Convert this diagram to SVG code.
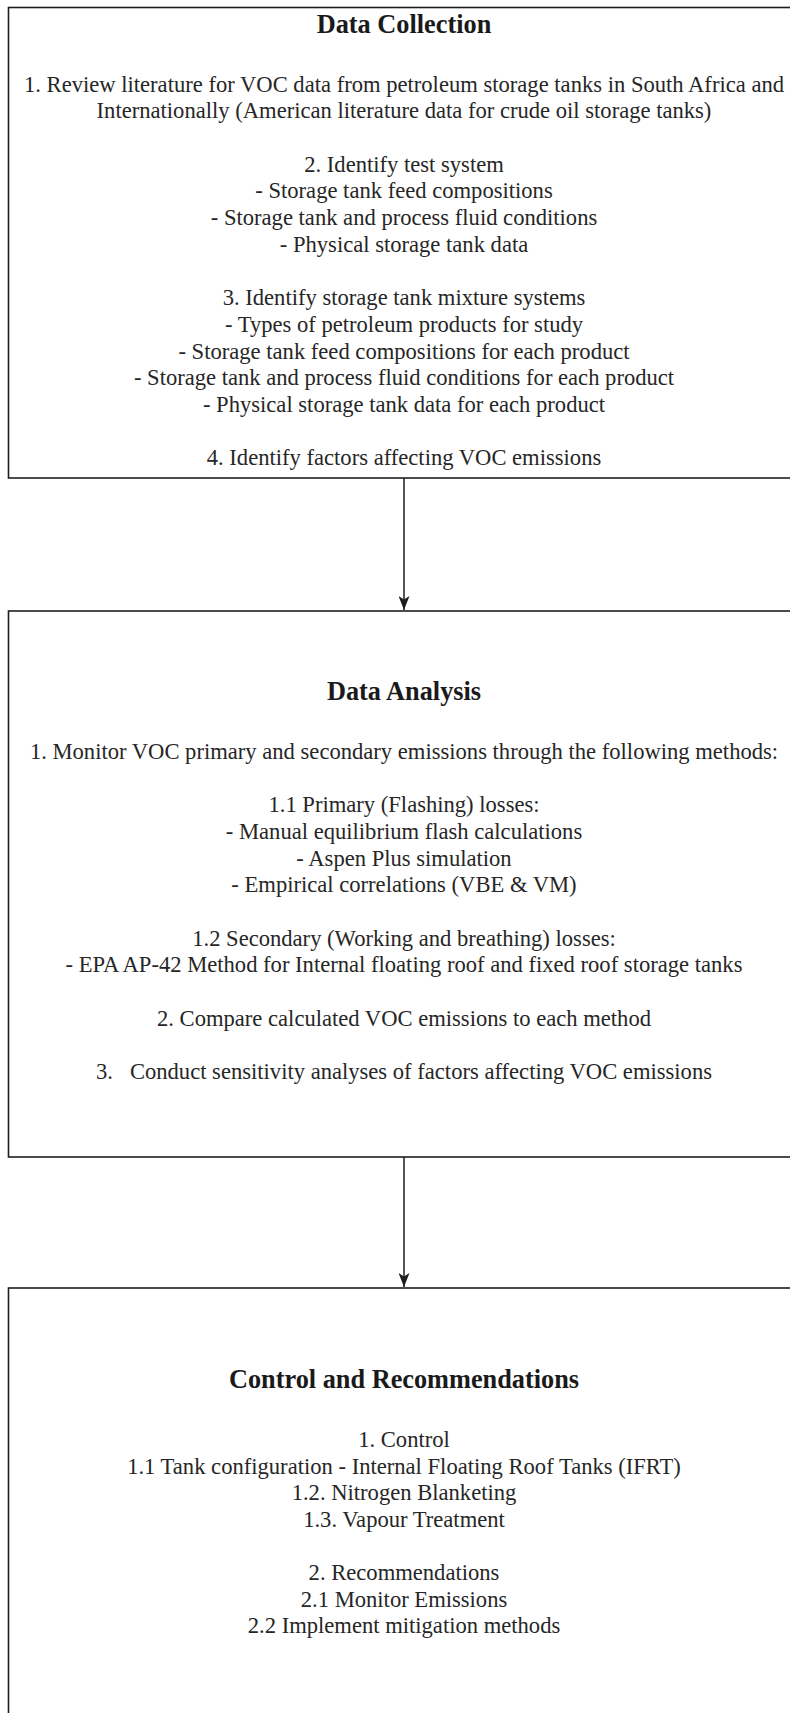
<svg xmlns="http://www.w3.org/2000/svg" width="790" height="1713" viewBox="0 0 790 1713">
  <style>
    .box { fill: #ffffff; stroke: #1e1e1e; stroke-width: 1.6; }
    .title { font-family: "Liberation Serif", "Times New Roman", serif; font-size: 26.3px; font-weight: bold; fill: #1a1a1a; text-anchor: middle; }
    .body { font-family: "Liberation Serif", "Times New Roman", serif; font-size: 22.6px; fill: #262626; text-anchor: middle; }
    .edge { stroke: #1e1e1e; stroke-width: 1.5; fill: none; }
  </style>
  <defs>
    <marker id="arrow" viewBox="0 0 14 11" refX="14" refY="5.5" markerWidth="14" markerHeight="11" orient="auto" markerUnits="userSpaceOnUse">
      <path d="M0,0 L14,5.5 L0,11 L3.5,5.5 z" fill="#1e1e1e"/>
    </marker>
  </defs>
  <rect x="0" y="0" width="790" height="1713" fill="#ffffff"/>

  <g id="data-collection">
    <rect class="box" x="8.5" y="7.5" width="800" height="470.5"/>
    <text class="title" x="404" y="33">Data Collection</text>
    <text class="body" x="404" y="91.5">1. Review literature for VOC data from petroleum storage tanks in South Africa and</text>
    <text class="body" x="404" y="118.2">Internationally (American literature data for crude oil storage tanks)</text>
    <text class="body" x="404" y="171.6">2. Identify test system</text>
    <text class="body" x="404" y="198.3">- Storage tank feed compositions</text>
    <text class="body" x="404" y="225">- Storage tank and process fluid conditions</text>
    <text class="body" x="404" y="251.7">- Physical storage tank data</text>
    <text class="body" x="404" y="305.1">3. Identify storage tank mixture systems</text>
    <text class="body" x="404" y="331.8">- Types of petroleum products for study</text>
    <text class="body" x="404" y="358.5">- Storage tank feed compositions for each product</text>
    <text class="body" x="404" y="385.2">- Storage tank and process fluid conditions for each product</text>
    <text class="body" x="404" y="411.9">- Physical storage tank data for each product</text>
    <text class="body" x="404" y="465.3">4. Identify factors affecting VOC emissions</text>
  </g>

  <g id="data-analysis">
    <rect class="box" x="8.5" y="611" width="800" height="546"/>
    <text class="title" x="404" y="700">Data Analysis</text>
    <text class="body" x="404" y="759">1. Monitor VOC primary and secondary emissions through the following methods:</text>
    <text class="body" x="404" y="812.3">1.1 Primary (Flashing) losses:</text>
    <text class="body" x="404" y="839">- Manual equilibrium flash calculations</text>
    <text class="body" x="404" y="865.7">- Aspen Plus simulation</text>
    <text class="body" x="404" y="892.4">- Empirical correlations (VBE &amp; VM)</text>
    <text class="body" x="404" y="945.7">1.2 Secondary (Working and breathing) losses:</text>
    <text class="body" x="404" y="972.4">- EPA AP-42 Method for Internal floating roof and fixed roof storage tanks</text>
    <text class="body" x="404" y="1025.7">2. Compare calculated VOC emissions to each method</text>
    <text class="body" x="404" y="1079">3.&#160;&#160; Conduct sensitivity analyses of factors affecting VOC emissions</text>
  </g>

  <g id="control-recommendations">
    <rect class="box" x="8.5" y="1288" width="800" height="500"/>
    <text class="title" x="404" y="1388">Control and Recommendations</text>
    <text class="body" x="404" y="1447">1. Control</text>
    <text class="body" x="404" y="1473.6">1.1 Tank configuration - Internal Floating Roof Tanks (IFRT)</text>
    <text class="body" x="404" y="1500.2">1.2. Nitrogen Blanketing</text>
    <text class="body" x="404" y="1526.8">1.3. Vapour Treatment</text>
    <text class="body" x="404" y="1580">2. Recommendations</text>
    <text class="body" x="404" y="1606.6">2.1 Monitor Emissions</text>
    <text class="body" x="404" y="1633.2">2.2 Implement mitigation methods</text>
  </g>

  <g id="connectors">
    <line class="edge" x1="404" y1="478" x2="404" y2="610" marker-end="url(#arrow)"/>
    <line class="edge" x1="404" y1="1157" x2="404" y2="1287" marker-end="url(#arrow)"/>
  </g>
</svg>
